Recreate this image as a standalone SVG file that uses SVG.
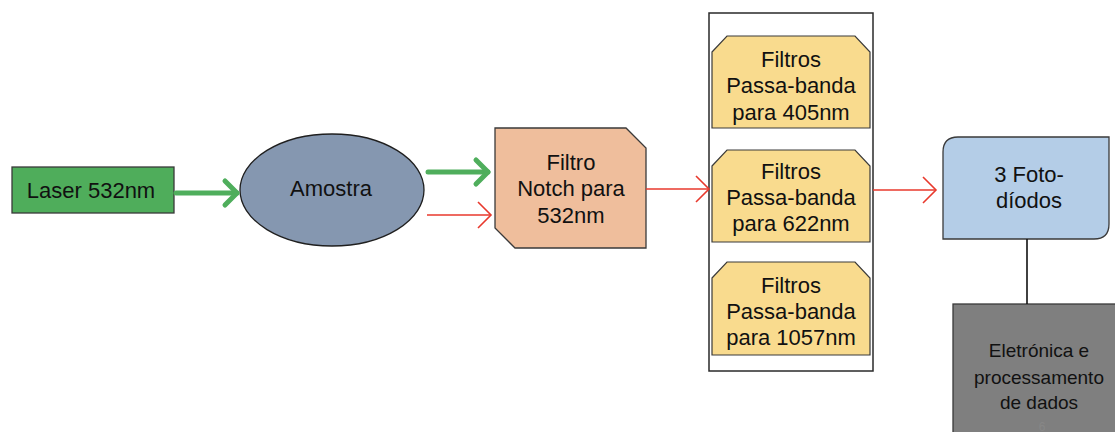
<svg xmlns="http://www.w3.org/2000/svg" width="1115" height="432" viewBox="0 0 1115 432">
  <style>
    .lbl { font-family: "Liberation Sans", Arial, sans-serif; font-size: 22px; fill: #111; text-anchor: middle; }
    .lbl-sm { font-family: "Liberation Sans", Arial, sans-serif; font-size: 19px; fill: #111; text-anchor: middle; }
    .edge { stroke: #3a3a3a; stroke-width: 1.3; }
    .yellow { fill: #F9DB8E; stroke: #3a3a3a; stroke-width: 1.2; }
    .green-link { stroke: #4FAE5C; stroke-width: 5; fill: none; stroke-linecap: round; }
    .red-link { stroke: #E8392D; stroke-width: 1.6; fill: none; }
  </style>
  <defs>
    <marker id="arrowGreen" markerUnits="userSpaceOnUse" markerWidth="30" markerHeight="40" viewBox="-20 -20 30 40" refX="0" refY="0" orient="auto">
      <path d="M-12,-12 L0,0 L-12,12" fill="none" stroke="#4FAE5C" stroke-width="5" stroke-linecap="round" stroke-linejoin="round"/>
    </marker>
    <marker id="arrowRed" markerUnits="userSpaceOnUse" markerWidth="30" markerHeight="40" viewBox="-20 -20 30 40" refX="0" refY="0" orient="auto">
      <path d="M-13,-13 L0,0 L-13,13" fill="none" stroke="#E8392D" stroke-width="1.6"/>
    </marker>
  </defs>

  <rect width="1115" height="432" fill="#ffffff"/>

  <!-- laser source -->
  <g id="laser">
    <rect x="12" y="167" width="162" height="46" fill="#4FAD5B" class="edge"/>
    <text x="91" y="198" class="lbl">Laser 532nm</text>
  </g>

  <!-- sample -->
  <g id="amostra">
    <ellipse cx="332" cy="190" rx="92" ry="56" fill="#8597B0" stroke="#1f1f1f" stroke-width="1.3"/>
    <text x="331" y="196" class="lbl">Amostra</text>
  </g>

  <!-- notch filter (snipped corners) -->
  <g id="notch">
    <path d="M495,128 L626,128 L646,148 L646,248 L515,248 L495,228 Z" fill="#EFBE9C" class="edge"/>
    <text x="571" y="170" class="lbl">Filtro</text>
    <text x="571" y="196" class="lbl">Notch para</text>
    <text x="571" y="223" class="lbl">532nm</text>
  </g>

  <!-- band-pass filter bank -->
  <g id="filtros">
    <rect x="709" y="13" width="164" height="358" fill="#ffffff" stroke="#2a2a2a" stroke-width="1.5"/>
    <g id="filtro-405">
      <path d="M712,52 L727,36 L855,36 L870,52 L870,128 L712,128 Z" class="yellow"/>
      <text x="791" y="67" class="lbl">Filtros</text>
      <text x="791" y="93" class="lbl">Passa-banda</text>
      <text x="791" y="120" class="lbl">para 405nm</text>
    </g>
    <g id="filtro-622">
      <path d="M712,166 L727,150 L855,150 L870,166 L870,242 L712,242 Z" class="yellow"/>
      <text x="791" y="179" class="lbl">Filtros</text>
      <text x="791" y="205" class="lbl">Passa-banda</text>
      <text x="791" y="231" class="lbl">para 622nm</text>
    </g>
    <g id="filtro-1057">
      <path d="M712,278 L727,262 L855,262 L870,278 L870,355 L712,355 Z" class="yellow"/>
      <text x="791" y="293" class="lbl">Filtros</text>
      <text x="791" y="319" class="lbl">Passa-banda</text>
      <text x="791" y="345" class="lbl">para 1057nm</text>
    </g>
  </g>

  <!-- photodiodes -->
  <g id="fotodiodos">
    <path d="M958,137 L1109,137 L1109,224 Q1109,239 1094,239 L943,239 L943,152 Q943,137 958,137 Z" fill="#B4CDE7" class="edge"/>
    <text x="1029" y="182" class="lbl">3 Foto-</text>
    <text x="1029" y="208" class="lbl">díodos</text>
  </g>

  <!-- electronics -->
  <g id="eletronica">
    <rect x="953" y="304" width="170" height="140" fill="#7F7F7F" stroke="#3a3a3a" stroke-width="1.3"/>
    <text x="1039" y="357" class="lbl-sm">Eletrónica e</text>
    <text x="1039" y="384" class="lbl-sm">processamento</text>
    <text x="1039" y="409" class="lbl-sm">de dados</text>
    <text x="1042" y="431" font-family="Liberation Sans, Arial, sans-serif" font-size="12" fill="#878787" text-anchor="middle">6</text>
  </g>

  <!-- connectors -->
  <g id="connectors">
    <line x1="176" y1="193" x2="237" y2="193" class="green-link" marker-end="url(#arrowGreen)"/>
    <line x1="428" y1="172" x2="488" y2="172" class="green-link" marker-end="url(#arrowGreen)"/>
    <line x1="427" y1="215" x2="491" y2="215" class="red-link" marker-end="url(#arrowRed)"/>
    <line x1="646" y1="189" x2="709" y2="189" class="red-link" marker-end="url(#arrowRed)"/>
    <line x1="873" y1="190" x2="936" y2="190" class="red-link" marker-end="url(#arrowRed)"/>
    <line x1="1027" y1="239" x2="1027" y2="304" stroke="#111" stroke-width="1.6"/>
  </g>
</svg>
